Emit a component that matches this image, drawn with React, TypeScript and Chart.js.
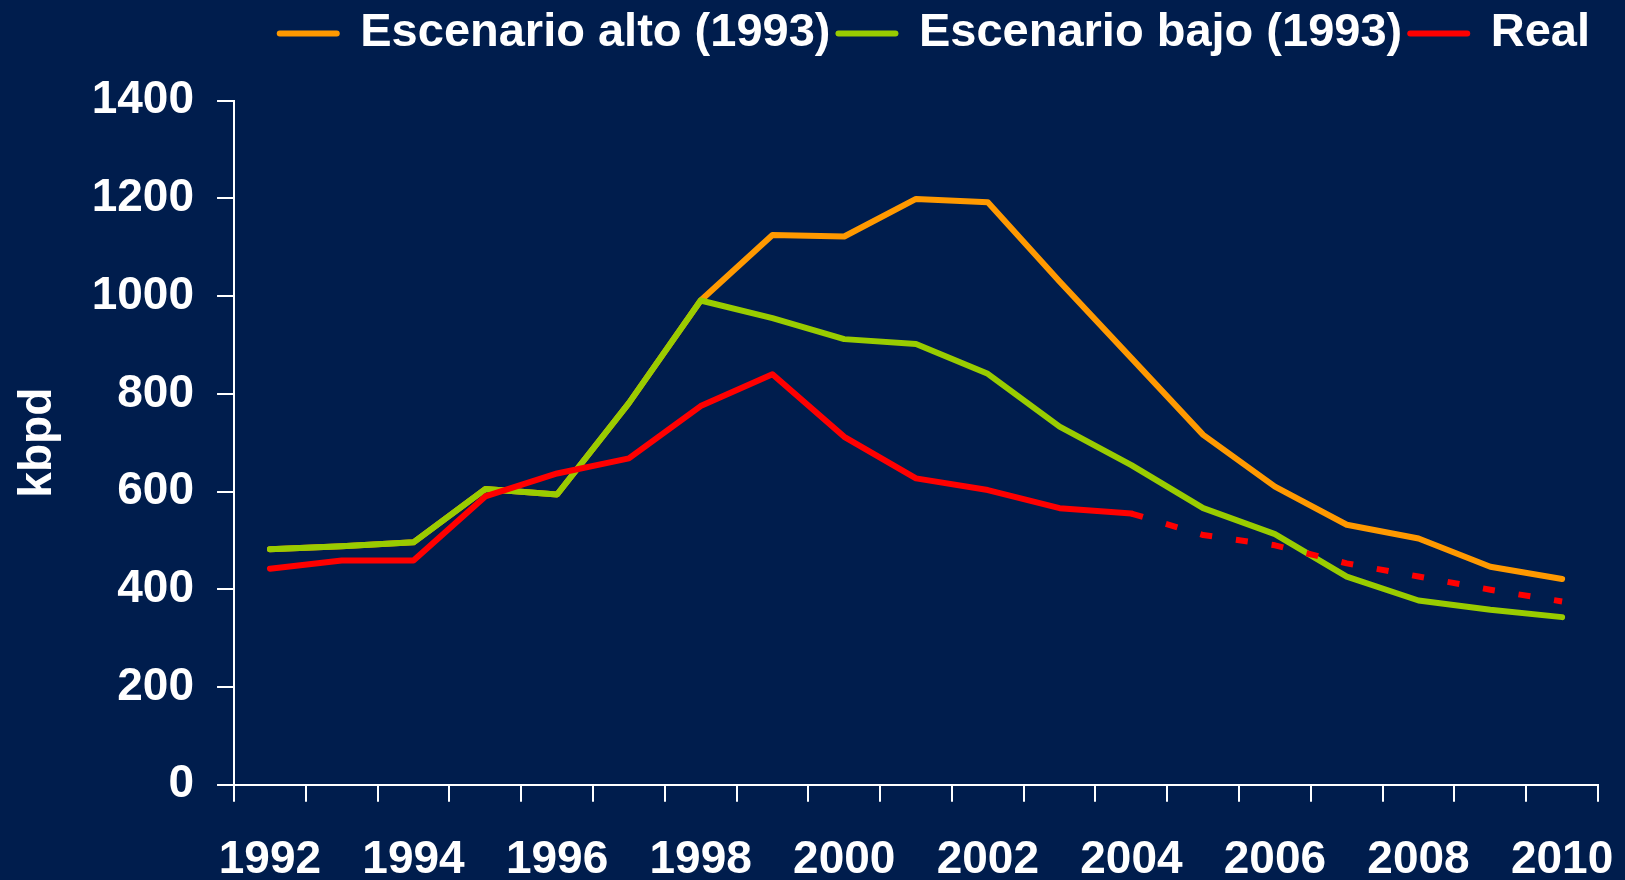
import React, { useEffect, useRef } from 'react';
import { Chart, registerables } from 'chart.js';

Chart.register(...registerables);

// ---- Data ----
const years = ['1992', '1993', '1994', '1995', '1996', '1997', '1998', '1999', '2000', '2001', '2002', '2003', '2004', '2005', '2006', '2007', '2008', '2009', '2010'];
const altoValues = [482, 488, 496, 605, 594, 781, 991, 1125, 1122, 1199, 1192, 1030, 873, 716, 610, 532, 504, 446, 421];
const bajoValues = [482, 488, 496, 605, 594, 781, 991, 955, 912, 902, 841, 733, 654, 566, 513, 426, 377, 358, 343];
const realValues = [442, 459, 459, 590, 637, 668, 775, 840, 712, 627, 603, 566, 555, 511, 490, 453, 426, 399, 375];
const seriesLabels = ['Escenario alto (1993)', 'Escenario bajo (1993)', 'Real'];
const realDashedFromIndex = 12; // 2004 onward dashed
const yMin = 0;
const yMax = 1400;
const yStep = 200;
const yTitle = 'kbpd';

const BG = '#001D4D';
const ORANGE = '#FF9900';
const GREEN = '#99CC00';
const RED = '#FF0000';
const WHITE = '#FFFFFF';
const FONT = "'Liberation Sans', Arial, Helvetica, sans-serif";
const LW = 6;

export default function App() {
  const ref = useRef<HTMLCanvasElement | null>(null);

  useEffect(() => {
    document.body.style.margin = '0';
    document.body.style.background = BG;
    const canvas = ref.current;
    if (!canvas) return;
    Chart.defaults.font.family = FONT;

    const chart = new Chart(canvas, {
      type: 'line',
      data: {
        labels: years,
        datasets: [
          {
            label: seriesLabels[0],
            data: altoValues,
            borderColor: ORANGE,
            backgroundColor: ORANGE,
            borderWidth: LW,
            borderCapStyle: 'round',
            borderJoinStyle: 'round',
            pointRadius: 0,
            tension: 0,
            order: 2,
          },
          {
            label: seriesLabels[1],
            data: bajoValues,
            borderColor: GREEN,
            backgroundColor: GREEN,
            borderWidth: LW,
            borderCapStyle: 'round',
            borderJoinStyle: 'round',
            pointRadius: 0,
            tension: 0,
            order: 1,
          },
          {
            label: seriesLabels[2],
            data: realValues,
            borderColor: RED,
            backgroundColor: RED,
            borderWidth: LW,
            borderCapStyle: 'round',
            borderJoinStyle: 'round',
            pointRadius: 0,
            tension: 0,
            order: 0,
            segment: {
              borderDash: (ctx: any) => (ctx.p0DataIndex >= realDashedFromIndex ? [12, 24] : undefined),
              borderCapStyle: (ctx: any) => (ctx.p0DataIndex >= realDashedFromIndex ? 'butt' : undefined),
            },
          } as any,
        ],
      },
      options: {
        responsive: false,
        maintainAspectRatio: false,
        animation: false,
        devicePixelRatio: 1,
        events: [],
        layout: { padding: { top: 2, right: 27, bottom: -38.3, left: 0 } },
        plugins: {
          tooltip: { enabled: false },
          title: {
            display: true,
            text: '',
            position: 'top',
            weight: 500,
            font: { size: 10, lineHeight: 1.2 },
            padding: { top: 0, bottom: 21.7 },
          } as any,
          legend: {
            display: true,
            position: 'top',
            align: 'end',
            labels: {
              color: WHITE,
              font: { size: 47, weight: 'bold', family: FONT },
              usePointStyle: true,
              pointStyleWidth: 57,
              boxHeight: 47,
              padding: 8,
              generateLabels: (c: any) =>
                c.data.datasets.map((ds: any, i: number) => ({
                  text: ds.label,
                  fillStyle: ds.borderColor,
                  strokeStyle: ds.borderColor,
                  lineWidth: LW,
                  lineCap: 'round',
                  lineDash: [],
                  pointStyle: 'line',
                  fontColor: WHITE,
                  hidden: false,
                  datasetIndex: i,
                })),
            },
          },
        },
        scales: {
          x: {
            type: 'category',
            offset: true,
            grid: {
              display: true,
              offset: true,
              drawOnChartArea: false,
              drawTicks: true,
              tickLength: 17,
              color: WHITE,
              lineWidth: 2,
            },
            border: { display: true, color: WHITE, width: 2 },
            ticks: {
              autoSkip: false,
              maxRotation: 0,
              minRotation: 0,
              padding: 0,
              color: WHITE,
              font: { size: 46, weight: 'bold', lineHeight: 2.535 },
              callback: (_v: any, index: number) => (index % 2 === 0 ? years[index] : ''),
            },
          },
          y: {
            min: yMin,
            max: yMax,
            grid: {
              display: true,
              drawOnChartArea: false,
              drawTicks: true,
              tickLength: 17,
              color: WHITE,
              lineWidth: 2,
            },
            border: { display: true, color: WHITE, width: 2 },
            ticks: {
              stepSize: yStep,
              padding: 23,
              color: WHITE,
              font: { size: 46, weight: 'bold' },
              callback: (v: any) => String(v),
            },
            title: {
              display: true,
              text: yTitle,
              color: WHITE,
              font: { size: 46, weight: 'bold' },
              padding: { top: 11, bottom: 2.5 },
            },
          },
        },
      } as any,
    });

    return () => chart.destroy();
  }, []);

  return (
    <div style={{ width: 1625, height: 880, background: BG, overflow: 'hidden' }}>
      <canvas ref={ref} width={1625} height={880} style={{ display: 'block', width: 1625, height: 880 }} />
    </div>
  );
}
